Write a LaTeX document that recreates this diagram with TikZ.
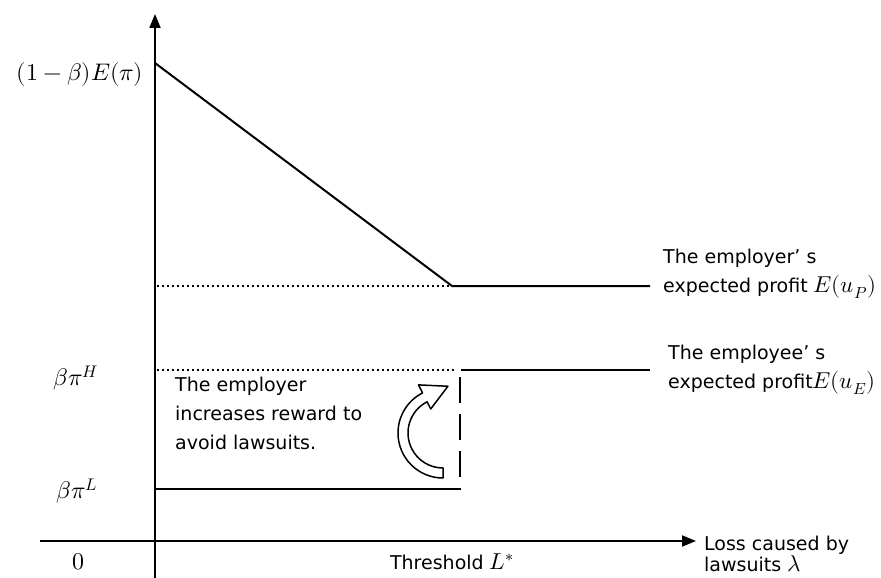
\documentclass[tikz,border=0pt]{standalone}
\usepackage{fontspec}
\usepackage{unicode-math}
\setsansfont{DejaVu Sans}
\setmathfont{Latin Modern Math}
\usetikzlibrary{arrows.meta, calc, positioning}
\newcommand{\bigmath}[1]{{\fontsize{23}{23}\selectfont$#1$}}

\begin{document}
\begin{tikzpicture}[x=1pt, y=-1pt,
    axis/.style={line width=2pt, -{Triangle[length=14pt, width=11pt]}},
    curve/.style={line width=2pt},
    guide/.style={line width=2pt, dash pattern=on 2pt off 3pt},
    jumpline/.style={line width=2.5pt, dash pattern=on 26pt off 11pt},
    lbl/.style={font=\sffamily\fontsize{19}{29}\selectfont, align=left, inner sep=0pt},
    mlbl/.style={font=\fontsize{24}{26}\selectfont, inner sep=0pt}]
  \useasboundingbox (0,0) rectangle (881,578);

  % Axes
  \coordinate (O) at (155,541);
  \coordinate (ybot) at (155,578);
  \coordinate (ytop) at (155,14);
  \coordinate (xleft) at (40,541);
  \coordinate (xright) at (696,541);
  \draw[axis] (ybot) -- (ytop);
  \draw[axis] (xleft) -- (xright);

  % Employer profit
  \coordinate (pstart) at (155,63);
  \coordinate (kink) at (452,286);
  \coordinate (pend) at (650,286);
  \coordinate (pguide) at (157,286);
  \draw[curve] (pstart) -- (kink) -- (pend);
  \draw[guide] (pguide) -- (kink);

  % Employee profit
  \coordinate (hguide) at (157,370);
  \coordinate (hgap) at (455,370);
  \coordinate (hstart) at (461,370);
  \coordinate (hend) at (650,370);
  \coordinate (lstart) at (155,489);
  \coordinate (lend) at (461,489);
  \coordinate (jtop) at (460,377);
  \coordinate (jbot) at (460,489);
  \draw[guide] (hguide) -- (hgap);
  \draw[curve] (hstart) -- (hend);
  \draw[curve] (lstart) -- (lend);
  \draw[jumpline] (jtop) -- (jbot);

  % Curved block arrow
  \coordinate (C) at (443,433);
  \draw[line width=1.5pt, line join=round, fill=white]
    ($(C)+(90:45)$) arc[start angle=90, end angle=243, radius=45]
    -- ($(C)+(243:54)$) -- ($(C)+(276:47)$) -- ($(C)+(243:27)$)
    -- ($(C)+(243:35)$) arc[start angle=243, end angle=90, radius=35]
    -- cycle;

  % Axis labels
  \node[mlbl] (top) at (80,75) {$(1-\beta)E(\pi)$};
  \node[mlbl] (bh) at (76,378) {$\beta\pi^{H}$};
  \node[mlbl] (bl) at (77,491) {$\beta\pi^{L}$};
  \node[mlbl] (zero) at (78,562) {$0$};
  \node[lbl] (thr) at (452,562) {Threshold \bigmath{L^{*}}};
  \node[lbl, anchor=west, font=\sffamily\fontsize{19}{21}\selectfont] (loss) at (704,554) {Loss caused by\\lawsuits \bigmath{\lambda}};

  % Curve labels
  \node[lbl, anchor=west] (emplr) at (663,274) {The employer’ s\\expected profit \bigmath{E(u_{P})}};
  \node[lbl, anchor=west] (emplee) at (668,370) {The employee’ s\\expected profit\bigmath{E(u_{E})}};
  \node[lbl, anchor=north west] (note) at (175,377) {The employer\\increases reward to\\avoid lawsuits.};
\end{tikzpicture}
\end{document}
